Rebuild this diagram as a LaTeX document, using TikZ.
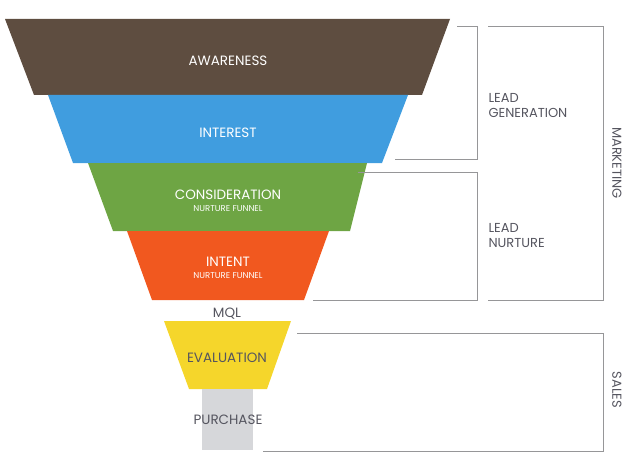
\documentclass[tikz,border=0pt]{standalone}
\usepackage{fontspec}
\setmainfont{Poppins}
\definecolor{funbrown}{RGB}{94, 77, 64}
\definecolor{funblue}{RGB}{64, 157, 223}
\definecolor{fungreen}{RGB}{110, 165, 68}
\definecolor{funorange}{RGB}{241, 88, 31}
\definecolor{funyellow}{RGB}{245, 214, 43}
\definecolor{fungray}{RGB}{214, 215, 218}
\definecolor{linegray}{RGB}{150, 150, 152}
\definecolor{textgray}{RGB}{85, 85, 95}

\begin{document}
\begin{tikzpicture}[x=1pt, y=-1pt,
    stagetext/.style={white, font=\fontsize{13.5}{14}\selectfont},
    subtext/.style={white, font=\fontsize{8.5}{9}\selectfont},
    darktext/.style={textgray, font=\fontsize{13.5}{14}\selectfont},
    sidetext/.style={textgray, font=\fontsize{13}{15}\selectfont, align=left, anchor=west},
    bracket/.style={linegray, line width=1pt}]
    \useasboundingbox (0, 0) rectangle (636, 473);

    % Funnel stages
    \fill[funbrown] (5, 19) -- (450, 19) -- (422, 95) -- (34, 95) -- cycle;
    \fill[funblue] (48, 95) -- (408, 95) -- (382, 163) -- (73, 163) -- cycle;
    \fill[fungreen] (88, 163) -- (367, 163) -- (350, 231) -- (113, 231) -- cycle;
    \fill[funorange] (127, 231) -- (329, 231) -- (304, 300) -- (152, 300) -- cycle;
    \fill[funyellow] (164, 321) -- (291, 321) -- (267, 389) -- (189, 389) -- cycle;
    \fill[fungray] (202, 389) rectangle (253, 450);

    % Stage labels
    \node[stagetext] (awareness) at (228, 61) {AWARENESS};
    \node[stagetext] (interest) at (228, 133) {INTEREST};
    \node[stagetext] (consideration) at (228, 195) {CONSIDERATION};
    \node[subtext] (considsub) at (228, 209) {NURTURE FUNNEL};
    \node[stagetext] (intent) at (228, 262) {INTENT};
    \node[subtext] (intentsub) at (228, 276) {NURTURE FUNNEL};
    \node[darktext] (mql) at (227, 314) {MQL};
    \node[darktext] (evaluation) at (227, 358) {EVALUATION};
    \node[darktext] (purchase) at (228, 420) {PURCHASE};

    % Brackets
    \draw[bracket] (457, 27) -- (477, 27) -- (477, 159) -- (395, 159);
    \draw[bracket] (358, 172) -- (477, 172) -- (477, 300) -- (313, 300);
    \draw[bracket] (488, 27) -- (603, 27) -- (603, 300) -- (488, 300);
    \draw[bracket] (297, 333) -- (603, 333) -- (603, 451) -- (263, 451);

    % Side labels
    \node[sidetext] (leadgen) at (485, 106) {LEAD\\GENERATION};
    \node[sidetext] (leadnurt) at (485, 236) {LEAD\\NURTURE};
    \node[textgray, rotate=-90, font=\fontsize{13}{14}\selectfont] (marketing) at (617, 163) {MARKETING};
    \node[textgray, rotate=-90, font=\fontsize{13}{14}\selectfont] (sales) at (617, 390) {SALES};
\end{tikzpicture}
\end{document}
